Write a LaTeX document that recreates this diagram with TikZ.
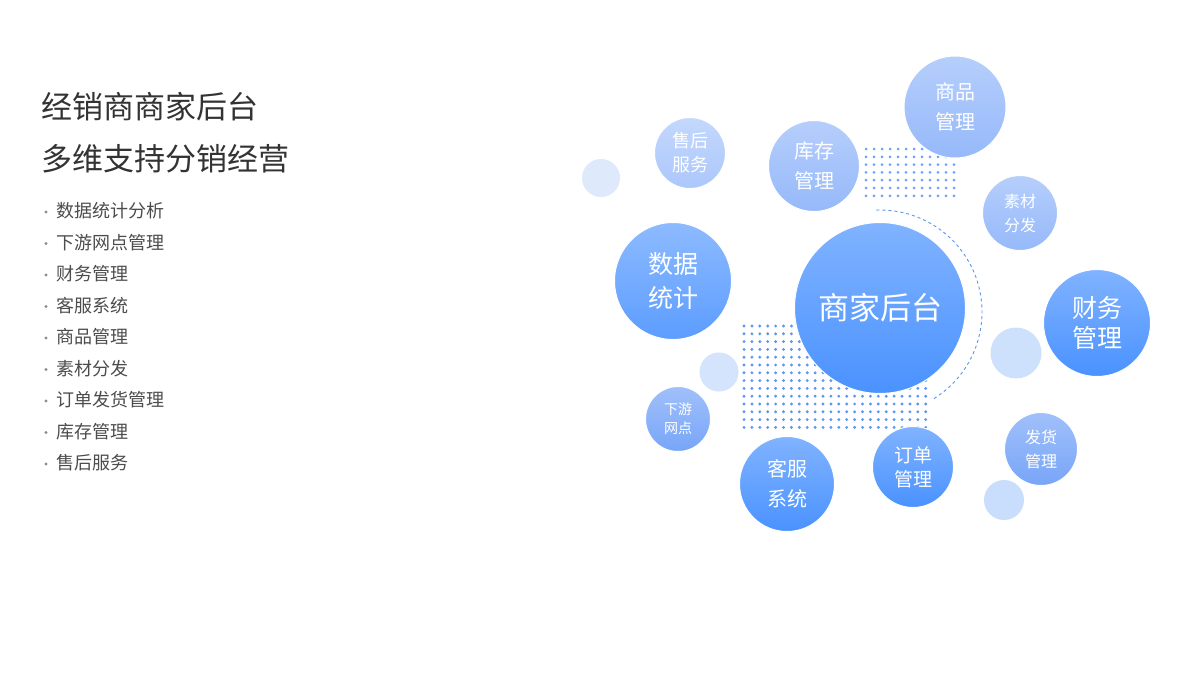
\documentclass[tikz,border=0pt]{standalone}
\usepackage{fontspec}
\setmainfont{Noto Sans CJK SC}
\definecolor{cA}{RGB}{74,146,255}
\definecolor{cB}{RGB}{120,165,248}
\definecolor{cC}{RGB}{150,185,250}
\definecolor{gd1}{RGB}{110,160,245}
\definecolor{gd2}{RGB}{90,150,245}
\definecolor{pa1}{RGB}{222,233,252}
\definecolor{pa2}{RGB}{205,225,252}
\definecolor{pa3}{RGB}{212,228,252}
\definecolor{pa4}{RGB}{200,222,252}
\begin{document}
\begin{tikzpicture}[x=1pt,y=-1pt,
  bub/.style={circle,inner sep=0pt,text=white,align=center,draw=white,line width=1pt,
    top color=#1!70!white,bottom color=#1,shading angle=0},
  pale/.style={circle,inner sep=0pt,fill=#1},
  item/.style={anchor=west,text=black!70,font=\fontsize{18}{20}\selectfont},
  ttl/.style={anchor=west,text=black!80,font=\fontsize{31}{34}\selectfont}]
\useasboundingbox (0,0) rectangle (1198,673);
\fill[white] (0,0) rectangle (1198,673);
\node[ttl] (t1) at (38,107) {经销商商家后台};
\node[ttl] (t2) at (38,159) {多维支持分销经营};
\foreach \t [count=\i from 0] in {数据统计分析,下游网点管理,财务管理,客服系统,商品管理,素材分发,订单发货管理,库存管理,售后服务}{
  \fill[black!45] (46,{212+31.5*\i}) circle (1.6);
  \node[item] (it\i) at (53,{211+31.5*\i}) {\t};
}
\foreach \i in {0,...,11} \foreach \j in {0,...,6}
  \fill[gd1] ({866+8*\i},{149+7.8*\j}) circle (1.5);
\foreach \i in {0,...,23} \foreach \j in {0,...,13}
  \fill[gd2] ({744+7.9*\i},{326+7.8*\j}) circle (1.6);
\draw[dashed,gd2,line width=0.9pt]
  (880,312) ++(58:102) arc[start angle=58,end angle=-92,radius=102];
\node[pale=pa1,minimum size=38pt] (p1) at (601,178) {};
\node[pale=pa2,minimum size=51pt] (p2) at (1016,353) {};
\node[pale=pa3,minimum size=39pt] (p3) at (719,372) {};
\node[pale=pa4,minimum size=40pt] (p4) at (1004,500) {};
\node[bub=cC,minimum size=102pt,font=\fontsize{20}{30}\selectfont] (spgl) at (955,107) {商品\\管理};
\node[bub=cC!80!white,minimum size=71pt,font=\fontsize{18}{24}\selectfont] (shfw) at (690,153) {售后\\服务};
\node[bub=cC,minimum size=91pt,font=\fontsize{20}{30}\selectfont] (kcgl) at (814,166) {库存\\管理};
\node[bub=cC,minimum size=75pt,font=\fontsize{16}{24}\selectfont] (scff) at (1020,213) {素材\\分发};
\node[bub=cA!90!white,minimum size=117pt,font=\fontsize{25}{34}\selectfont] (sjtj) at (673,281) {数据\\统计};
\node[bub=cA,minimum size=171pt,font=\fontsize{31}{34}\selectfont] (main) at (880,308) {商家后台};
\node[bub=cA,minimum size=107pt,font=\fontsize{25}{30}\selectfont] (cwgl) at (1097,323) {财务\\管理};
\node[bub=cB,minimum size=65pt,font=\fontsize{14}{19}\selectfont] (xywd) at (678,419) {下游\\网点};
\node[bub=cA,minimum size=95pt,font=\fontsize{20}{30}\selectfont] (kfxt) at (787,484) {客服\\系统};
\node[bub=cA,minimum size=81pt,font=\fontsize{19}{24}\selectfont] (ddgl) at (913,467) {订单\\管理};
\node[bub=cB,minimum size=73pt,font=\fontsize{16}{24}\selectfont] (fhgl) at (1041,449) {发货\\管理};
\end{tikzpicture}
\end{document}
